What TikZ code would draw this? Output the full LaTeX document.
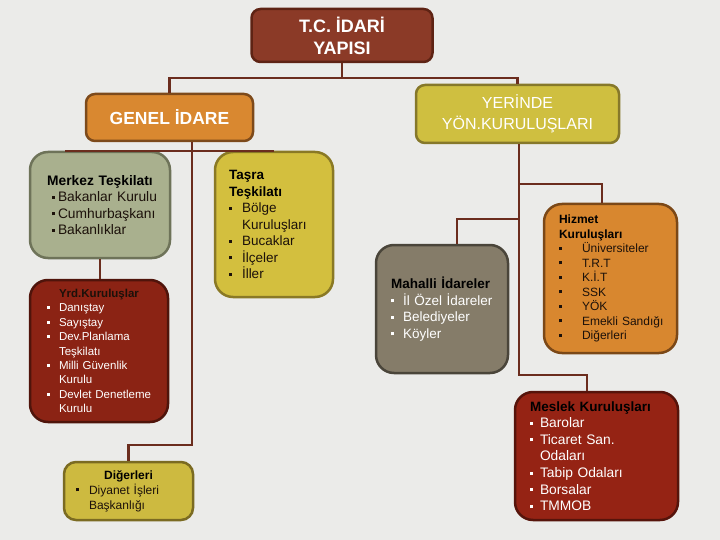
\documentclass[tikz,border=0pt]{standalone}
\usepackage{fontspec}
\setmainfont{Liberation Sans}
\usepackage{tikz}
\definecolor{bgcol}{HTML}{EBEBE9}
\definecolor{linecol}{HTML}{6B2D1E}
\definecolor{topfill}{HTML}{8B3A27}\definecolor{topline}{HTML}{5E2314}
\definecolor{genfill}{HTML}{D98830}\definecolor{genline}{HTML}{7D4A1B}
\definecolor{yerfill}{HTML}{CFBF40}\definecolor{yerline}{HTML}{86782A}
\definecolor{merfill}{HTML}{A9B08E}\definecolor{merline}{HTML}{6E7359}
\definecolor{tasfill}{HTML}{D3BF3E}\definecolor{tasline}{HTML}{8A7925}
\definecolor{yrdfill}{HTML}{8B2314}\definecolor{yrdline}{HTML}{4F140B}
\definecolor{digfill}{HTML}{CDBA40}\definecolor{digline}{HTML}{7B6B22}
\definecolor{mahfill}{HTML}{857C69}\definecolor{mahline}{HTML}{4A453A}
\definecolor{hizfill}{HTML}{D8872F}\definecolor{hizline}{HTML}{7B4817}
\definecolor{mesfill}{HTML}{952314}\definecolor{mesline}{HTML}{56140B}
\definecolor{darktext}{HTML}{1C110A}
\newcommand{\bul}[1][12pt]{\makebox[#1][l]{\rule[2.8pt]{3pt}{3pt}}}
\newcommand{\li}[2][12pt]{\mbox{\bul[#1]#2}}
\newcommand{\hang}[2][12pt]{\mbox{\hspace*{#1}#2}}

\begin{document}
\begin{tikzpicture}[x=1pt, y=-1pt,
  box/.style = {draw, rounded corners=18pt, line width=2.5pt, inner ysep=2pt, align=left},
  head/.style = {draw, rounded corners=9pt, line width=2.5pt, align=center, text=white},
  conn/.style = {draw=linecol, line width=2.2pt}]
	\fill[bgcol] (0,0) rectangle (720,540);

	\node[head, fill=topfill, draw=topline, minimum width=181pt, minimum height=53pt,
	  font=\fontsize{18}{22}\selectfont\bfseries] (top) at (342,35.5) {T.C. İDARİ\\YAPISI};
	\node[head, fill=genfill, draw=genline, minimum width=167pt, minimum height=47pt,
	  font=\fontsize{17.5}{21}\selectfont\bfseries] (genel) at (169.5,117.5) {GENEL İDARE};
	\node[head, fill=yerfill, draw=yerline, minimum width=203pt, minimum height=58pt,
	  font=\fontsize{16}{21}\selectfont] (yerinde) at (517.5,114) {YERİNDE\\YÖN.KURULUŞLARI};

	\node[box, fill=merfill, draw=merline, text=darktext, inner xsep=22pt, text width=96pt, minimum height=106pt,
	  font=\fontsize{13.8}{16.5}\selectfont] (merkez) at (100,205)
	  {\makebox[\linewidth]{\bfseries\color{black}Merkez Teşkilatı}\\
	   \li[6pt]{Bakanlar Kurulu}\\ \li[6pt]{Cumhurbaşkanı}\\ \li[6pt]{Bakanlıklar}};
	\node[box, fill=tasfill, draw=tasline, text=darktext, inner xsep=14pt, text width=90pt, minimum height=145pt,
	  font=\fontsize{13.5}{16.5}\selectfont] (tasra) at (274,224.5)
	  {{\bfseries\color{black}Taşra\\Teşkilatı}\\
	   \li[13pt]{Bölge}\\ \hang[13pt]{Kuruluşları}\\ \li[13pt]{Bucaklar}\\ \li[13pt]{İlçeler}\\ \li[13pt]{İller}};
	\node[box, fill=yrdfill, draw=yrdline, text=white, inner xsep=17pt, text width=104pt, minimum height=142pt,
	  font=\fontsize{11.5}{14.4}\selectfont] (yrd) at (99,351)
	  {\makebox[\linewidth]{\bfseries\color{darktext}Yrd.Kuruluşlar}\\
	   \li{Danıştay}\\ \li{Sayıştay}\\ \li{Dev.Planlama}\\ \hang{Teşkilatı}\\
	   \li{Milli Güvenlik}\\ \hang{Kurulu}\\ \li{Devlet Denetleme}\\ \hang{Kurulu}};
	\node[box, fill=digfill, draw=digline, text=darktext, rounded corners=12pt, inner xsep=12pt, text width=105pt,
	  minimum height=58pt, font=\fontsize{12}{15}\selectfont] (diger) at (128.5,491)
	  {\makebox[\linewidth]{\bfseries\color{black}Diğerleri}\\
	   \li[13pt]{Diyanet İşleri}\\ \hang[13pt]{Başkanlığı}};

	\node[box, fill=mahfill, draw=mahline, text=white, inner xsep=15pt, text width=102pt, minimum height=128pt,
	  font=\fontsize{13.5}{16.5}\selectfont] (mahalli) at (442,309)
	  {\mbox{\bfseries\color{black}Mahalli İdareler}\\
	   \li{İl Özel İdareler}\\ \li{Belediyeler}\\ \li{Köyler}};
	\node[box, fill=hizfill, draw=hizline, text=darktext, inner xsep=15pt, text width=103pt, minimum height=149pt,
	  font=\fontsize{12}{14.5}\selectfont] (hizmet) at (610.5,278.5)
	  {{\bfseries\color{black}Hizmet\\Kuruluşları}\\
	   \li[23pt]{Üniversiteler}\\ \li[23pt]{T.R.T}\\ \li[23pt]{K.İ.T}\\ \li[23pt]{SSK}\\
	   \li[23pt]{YÖK}\\ \li[23pt]{Emekli Sandığı}\\ \li[23pt]{Diğerleri}};
	\node[box, fill=mesfill, draw=mesline, text=white, inner xsep=15pt, text width=133pt, minimum height=128pt,
	  font=\fontsize{13.8}{16.6}\selectfont] (meslek) at (596.5,456)
	  {\mbox{\fontsize{13.5}{16.6}\selectfont\bfseries\color{black}Meslek Kuruluşları}\\
	   \li[10pt]{Barolar}\\ \li[10pt]{Ticaret San.}\\ \hang[10pt]{Odaları}\\ \li[10pt]{Tabip Odaları}\\
	   \li[10pt]{Borsalar}\\ \li[10pt]{TMMOB}};

	\coordinate (bus) at (342,78);
	\coordinate (gdown) at (192,445);
	\coordinate (lbus) at (65,151);
	\coordinate (rdown) at (519,375);
	\coordinate (hz) at (519,184);
	\coordinate (mh) at (519,219);
	\coordinate (mk) at (587,375);

	\draw[conn] (top.south) -- (bus);
	\draw[conn] (genel.north) |- (bus) -| (yerinde.north);
	\draw[conn] (genel.south -| gdown) -- (gdown) -| (diger.north);
	\draw[conn] (lbus) -- (lbus -| tasra.north);
	\draw[conn] (merkez.south) -- (merkez.south |- yrd.north);
	\draw[conn] (yerinde.south -| rdown) -- (rdown) -- (mk) -- (mk |- meslek.north);
	\draw[conn] (hz) -| ([xshift=-8.5pt]hizmet.north);
	\draw[conn] (mh) -| ([xshift=15pt]mahalli.north);
\end{tikzpicture}
\end{document}
